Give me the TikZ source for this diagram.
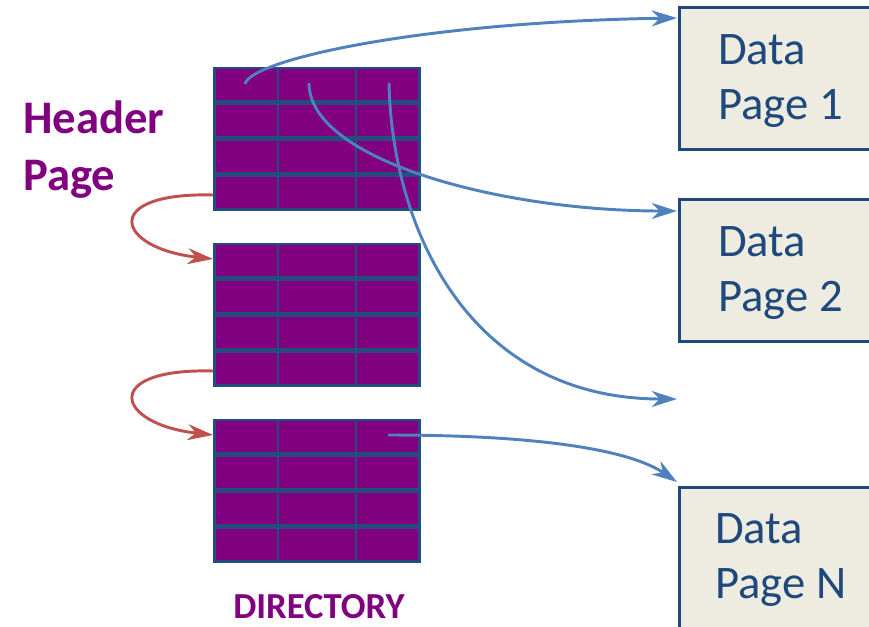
\documentclass[tikz,border=0pt]{standalone}
\usepackage{fontspec}
\setmainfont{Carlito}
\usetikzlibrary{arrows.meta}
\definecolor{dirpurple}{HTML}{800080}
\definecolor{gridblue}{HTML}{254C7E}
\definecolor{arrowblue}{HTML}{4F81BD}
\definecolor{arrowred}{HTML}{C0504D}
\definecolor{pagefill}{HTML}{EEECE1}
\definecolor{pageblue}{HTML}{1F497D}
\begin{document}
\begin{tikzpicture}[x=0.75pt,y=-0.75pt,
  tablebox/.style={draw=none, fill=gridblue, minimum width=156pt, minimum height=108pt, inner sep=0pt, outer sep=0pt, anchor=north west},
  cellfill/.style={fill=dirpurple},
  databox/.style={draw=pageblue, line width=2.25pt, fill=pagefill, minimum width=180pt, inner sep=0pt, outer sep=0pt, anchor=north west},
  datatext/.style={text=pageblue, font=\fontsize{35}{42}\selectfont, anchor=base west, inner sep=0pt},
  headtext/.style={text=dirpurple, font=\bfseries\fontsize{35}{42}\selectfont, anchor=base west, inner sep=0pt},
  dirtext/.style={text=dirpurple, font=\bfseries\fontsize{27.5}{33}\selectfont, anchor=base, inner sep=0pt},
  ptr/.style={draw=arrowblue, line width=2.2pt, -{Stealth[length=19pt,width=12pt,inset=6pt]}},
  nextptr/.style={draw=arrowred, line width=2.2pt, -{Stealth[length=19pt,width=12pt,inset=6pt]}},
]
\useasboundingbox (0,0) rectangle (869,626);

% directory tables
\foreach \n/\top in {1/67, 2/243, 3/419} {
  \node[tablebox] (t\n) at (213,\top) {};
  \foreach \xa/\xb in {216/277, 279/355, 357/418} {
    \foreach \ya/\yb in {2/33, 38/69, 74/105, 110/141} {
      \fill[cellfill] (\xa,\top+\ya) rectangle (\xb,\top+\yb);
    }
  }
}

% data pages
\node[databox, minimum height=106.5pt] (d1) at (679,7) {};
\node[databox, minimum height=106.5pt] (d2) at (679,199) {};
\node[databox, minimum height=120pt] (dN) at (679,487) {};
\node[datatext] (d1a) at (718,64) {Data};
\node[datatext] (d1b) at (718,119) {Page 1};
\node[datatext] (d2a) at (718,256) {Data};
\node[datatext] (d2b) at (718,311) {Page 2};
\node[datatext] (dNa) at (715,543) {Data};
\node[datatext] (dNb) at (715,598) {Page N};

% labels
\node[headtext] (h1) at (23,133) {Header};
\node[headtext] (h2) at (23,190) {Page};
\node[dirtext] (dir) at (319,618) {DIRECTORY};

% connector end points
\coordinate (s1) at (245,84);
\coordinate (s2) at (309,83);
\coordinate (s3) at (389,83);
\coordinate (s4) at (388,435);
\coordinate (d1in) at (677,18);
\coordinate (d2in) at (677,211);
\coordinate (dfree) at (677,399);
\coordinate (dNin) at (677,482);
\coordinate (t1out) at (213,195);
\coordinate (t2in) at (213,259);
\coordinate (t2out) at (213,371);
\coordinate (t3in) at (213,435);

% next-page pointers
\draw[nextptr] (t1out) .. controls (100,192) and (115,248) .. (t2in);
\draw[nextptr] (t2out) .. controls (100,368) and (115,424) .. (t3in);

% data page pointers
\draw[ptr] (s1) .. controls (250,60) and (420,22) .. (d1in);
\draw[ptr] (s2) .. controls (309,160) and (500,211) .. (d2in);
\draw[ptr] (s3) .. controls (392,230) and (470,399) .. (dfree);
\draw[ptr] (s4) .. controls (540,435) and (630,450) .. (dNin);
\end{tikzpicture}
\end{document}
